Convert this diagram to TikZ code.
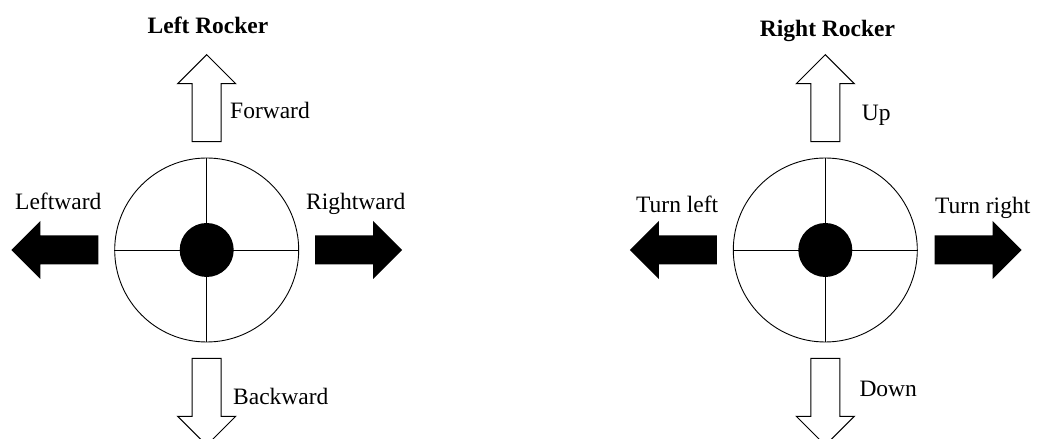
\documentclass[tikz,border=0pt]{standalone}
\usepackage{fontspec}
\setmainfont{Liberation Serif}
\usetikzlibrary{positioning}

\begin{document}
\begin{tikzpicture}[
        x=1pt, y=1pt,
        pad/.style={circle, draw=black, line width=0.9pt, minimum size=184pt, inner sep=0pt},
        knob/.style={circle, fill=black, minimum size=54pt, inner sep=0pt},
        cross/.style={draw=black, line width=0.9pt},
        lbl/.style={anchor=base west, inner sep=0pt, font=\fontsize{23.5}{28}\selectfont},
        rockertitle/.style={anchor=base, inner sep=0pt, font=\fontsize{23.5}{28}\selectfont\bfseries},
        hollowarrow/.style={draw=black, line width=1pt, fill=white},
        blackarrow/.style={fill=black},
        padarrow/.pic={\path[pic actions] (0,-14.5) -- (58,-14.5) -- (58,-29) -- (87,0) -- (58,29) -- (58,14.5) -- (0,14.5) -- cycle;}
    ]
    \useasboundingbox (0,0) rectangle (1037,439);
    \clip (0,0) rectangle (1037,439);

    % Left rocker
    \node[pad] (lpad) at (206.7,189) {};
    \draw[cross] (lpad.north) -- (lpad.south);
    \draw[cross] (lpad.west) -- (lpad.east);
    \node[knob] (lknob) at (lpad.center) {};
    \coordinate (lup) at (206.7,297.3);
    \coordinate (ldown) at (206.7,80.7);
    \coordinate (lleft) at (98.3,189);
    \coordinate (lright) at (315.1,189);
    \pic[hollowarrow, rotate=90] at (lup) {padarrow};
    \pic[hollowarrow, rotate=-90] at (ldown) {padarrow};
    \pic[blackarrow, rotate=180] at (lleft) {padarrow};
    \pic[blackarrow] at (lright) {padarrow};
    \node[rockertitle] (ltitle) at (208,405.7) {Left Rocker};
    \node[lbl] (lfwd) at (230,320.7) {Forward};
    \node[lbl] (lback) at (233,34) {Backward};
    \node[lbl] (lleftlbl) at (15,229.7) {Leftward};
    \node[lbl] (lrightlbl) at (306,229.7) {Rightward};

    % Right rocker
    \node[pad] (rpad) at (825.3,189) {};
    \draw[cross] (rpad.north) -- (rpad.south);
    \draw[cross] (rpad.west) -- (rpad.east);
    \node[knob] (rknob) at (rpad.center) {};
    \coordinate (rup) at (825.3,297.3);
    \coordinate (rdown) at (825.3,80.7);
    \coordinate (rleft) at (716.9,189);
    \coordinate (rright) at (934.5,189);
    \pic[hollowarrow, rotate=90] at (rup) {padarrow};
    \pic[hollowarrow, rotate=-90] at (rdown) {padarrow};
    \pic[blackarrow, rotate=180] at (rleft) {padarrow};
    \pic[blackarrow] at (rright) {padarrow};
    \node[rockertitle] (rtitle) at (827.5,402.3) {Right Rocker};
    \node[lbl] (ruplbl) at (861.7,318.3) {Up};
    \node[lbl] (rdownlbl) at (859.3,42.3) {Down};
    \node[lbl] (rleftlbl) at (636,226.3) {Turn left};
    \node[lbl] (rrightlbl) at (935,225.7) {Turn right};

\end{tikzpicture}
\end{document}
